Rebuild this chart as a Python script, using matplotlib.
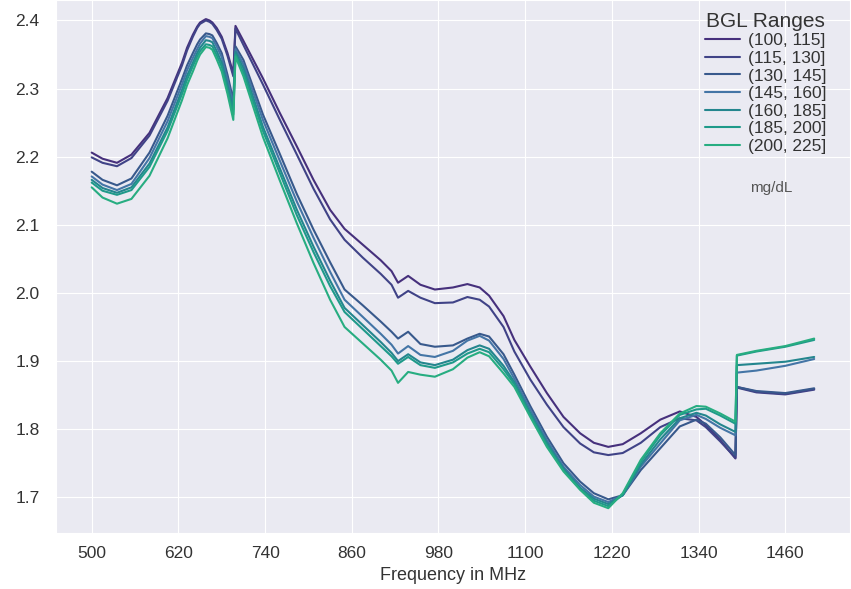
import numpy as np
import matplotlib
matplotlib.use('Agg')
import matplotlib.pyplot as plt
import seaborn as sns

# frequency grid (MHz)
freq = [500, 515, 535, 555, 580, 605, 625, 632, 640, 646,
        650, 658, 663, 667, 673, 680, 688, 696, 699, 710,
        737, 760, 784, 807, 830, 850, 875, 900, 915, 924,
        938, 955, 975, 1000, 1020, 1037, 1050, 1070, 1085, 1107,
        1130, 1153, 1176, 1195, 1215, 1235, 1260, 1287, 1314, 1337,
        1350, 1370, 1391, 1393, 1420, 1460, 1500]

bgl_100_115 = [2.206, 2.197, 2.191, 2.203, 2.235, 2.286, 2.338, 2.360, 2.379, 2.391,
               2.397, 2.402, 2.400, 2.397, 2.389, 2.376, 2.352, 2.322, 2.392, 2.370,
               2.315, 2.265, 2.215, 2.166, 2.122, 2.094, 2.071, 2.048, 2.032, 2.015,
               2.025, 2.012, 2.005, 2.008, 2.013, 2.008, 1.996, 1.966, 1.931, 1.892,
               1.853, 1.818, 1.794, 1.780, 1.774, 1.778, 1.794, 1.814, 1.826, 1.818,
               1.806, 1.784, 1.757, 1.862, 1.855, 1.852, 1.859]
bgl_115_130 = [2.199, 2.191, 2.186, 2.198, 2.231, 2.282, 2.334, 2.356, 2.376, 2.389,
               2.395, 2.400, 2.398, 2.395, 2.386, 2.373, 2.348, 2.318, 2.388, 2.364,
               2.306, 2.255, 2.203, 2.153, 2.108, 2.078, 2.052, 2.028, 2.012, 1.993,
               2.003, 1.993, 1.985, 1.986, 1.994, 1.990, 1.980, 1.950, 1.914, 1.873,
               1.836, 1.803, 1.779, 1.766, 1.762, 1.765, 1.780, 1.803, 1.816, 1.813,
               1.803, 1.782, 1.758, 1.861, 1.854, 1.851, 1.858]
bgl_130_145 = [2.178, 2.166, 2.158, 2.168, 2.206, 2.260, 2.314, 2.334, 2.352, 2.365,
               2.372, 2.381, 2.380, 2.378, 2.367, 2.352, 2.320, 2.283, 2.362, 2.342,
               2.262, 2.205, 2.145, 2.093, 2.045, 2.005, 1.982, 1.958, 1.943, 1.933,
               1.943, 1.925, 1.921, 1.923, 1.933, 1.940, 1.936, 1.910, 1.880, 1.834,
               1.789, 1.750, 1.723, 1.706, 1.697, 1.703, 1.740, 1.772, 1.804, 1.814,
               1.808, 1.788, 1.762, 1.862, 1.856, 1.853, 1.860]
bgl_145_160 = [2.171, 2.159, 2.151, 2.160, 2.198, 2.252, 2.306, 2.327, 2.345, 2.358,
               2.366, 2.377, 2.376, 2.374, 2.362, 2.346, 2.313, 2.276, 2.358, 2.336,
               2.254, 2.195, 2.134, 2.081, 2.031, 1.990, 1.965, 1.940, 1.924, 1.911,
               1.922, 1.909, 1.906, 1.915, 1.930, 1.937, 1.930, 1.903, 1.874, 1.829,
               1.784, 1.745, 1.718, 1.701, 1.693, 1.703, 1.745, 1.779, 1.813, 1.821,
               1.815, 1.802, 1.791, 1.883, 1.886, 1.893, 1.903]
bgl_160_185 = [2.166, 2.154, 2.147, 2.155, 2.190, 2.243, 2.298, 2.319, 2.338, 2.352,
               2.360, 2.371, 2.370, 2.368, 2.355, 2.338, 2.305, 2.269, 2.354, 2.330,
               2.244, 2.184, 2.122, 2.068, 2.018, 1.978, 1.953, 1.928, 1.912, 1.900,
               1.910, 1.898, 1.894, 1.902, 1.916, 1.923, 1.918, 1.893, 1.869, 1.824,
               1.780, 1.742, 1.714, 1.698, 1.690, 1.703, 1.748, 1.785, 1.816, 1.824,
               1.820, 1.807, 1.796, 1.894, 1.896, 1.899, 1.906]
bgl_185_200 = [2.162, 2.150, 2.144, 2.151, 2.185, 2.238, 2.292, 2.313, 2.333, 2.347,
               2.355, 2.365, 2.364, 2.362, 2.349, 2.332, 2.298, 2.262, 2.350, 2.324,
               2.238, 2.177, 2.114, 2.060, 2.010, 1.972, 1.947, 1.922, 1.907, 1.896,
               1.906, 1.894, 1.890, 1.898, 1.911, 1.918, 1.913, 1.888, 1.866, 1.821,
               1.777, 1.740, 1.712, 1.695, 1.687, 1.704, 1.752, 1.791, 1.821, 1.829,
               1.830, 1.820, 1.808, 1.908, 1.914, 1.921, 1.931]
bgl_200_225 = [2.155, 2.140, 2.131, 2.138, 2.172, 2.227, 2.283, 2.305, 2.325, 2.341,
               2.350, 2.361, 2.360, 2.357, 2.343, 2.325, 2.292, 2.254, 2.347, 2.318,
               2.229, 2.166, 2.102, 2.044, 1.990, 1.950, 1.926, 1.902, 1.886, 1.868,
               1.884, 1.880, 1.877, 1.888, 1.905, 1.913, 1.907, 1.882, 1.862, 1.818,
               1.774, 1.738, 1.711, 1.692, 1.684, 1.706, 1.755, 1.794, 1.823, 1.834,
               1.833, 1.823, 1.811, 1.909, 1.915, 1.922, 1.933]

labels = ['(100, 115]', '(115, 130]', '(130, 145]', '(145, 160]',
          '(160, 185]', '(185, 200]', '(200, 225]']
series = [bgl_100_115, bgl_115_130, bgl_130_145, bgl_145_160,
          bgl_160_185, bgl_185_200, bgl_200_225]
colors = ['#46307c', '#404387', '#38598c', '#4475a6', '#24868e', '#1f9a8a', '#27ad81']

sns.set_style('darkgrid')
plt.rcParams['font.family'] = ['Liberation Sans', 'DejaVu Sans']

fig = plt.figure(figsize=(8.51, 5.89), dpi=100)
ax = fig.add_axes([0.0653, 0.0951, 0.9339, 0.905])

for ys, lab, c in zip(series, labels, colors):
    ax.plot(freq, ys, color=c, lw=1.5, label=lab)

ax.set_xlim(450, 1550)
ax.set_ylim(1.6476, 2.4301)
ax.set_xticks(range(500, 1500, 120))
yt = np.arange(1.7, 2.45, 0.1)
ax.set_yticks(yt)
ax.set_yticklabels(['%.1f' % v for v in yt])
ax.tick_params(axis='x', labelsize=12.5, pad=6, colors='#333333')
ax.tick_params(axis='y', labelsize=12.5, pad=8, colors='#333333')
ax.set_xlabel('Frequency in MHz', fontsize=13, color='#333333', labelpad=4)

leg = ax.legend(title='BGL Ranges', loc='upper right', frameon=False,
                fontsize=12.5, title_fontsize=15, labelspacing=0.14,
                handlelength=2.0, handletextpad=0.45, borderaxespad=0.0,
                borderpad=0.1, bbox_to_anchor=(0.972, 0.981))
for t in leg.get_texts():
    t.set_color('#333333')
leg.get_title().set_color('#333333')
ax.text(0.901, 0.648, 'mg/dL', transform=ax.transAxes, fontsize=11,
        color='#555555', ha='center', va='center')

fig.savefig('out.png', dpi=100)
